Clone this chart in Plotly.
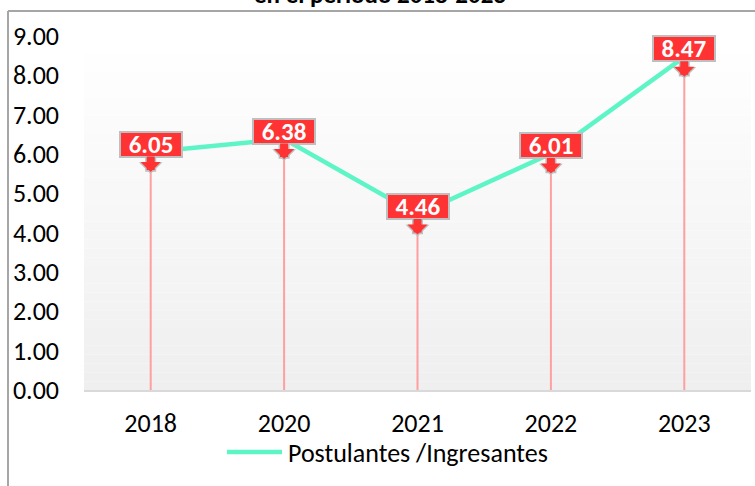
import plotly.graph_objects as go

categories = ["2018", "2020", "2021", "2022", "2023"]
values = [6.05, 6.38, 4.46, 6.01, 8.47]
y_ticks = [0, 1, 2, 3, 4, 5, 6, 7, 8, 9]
series_name = "Postulantes /Ingresantes"
title_text = "en el periodo 2018-2023"

W, H = 755, 486
L, R, T, B = 84, 4, 36, 96
pw, ph = W - L - R, H - T - B

def px(x):
    return (x - L) / pw

def py(y):
    return (H - B - y) / ph

LINE_COLOR = "#5ef5c6"
FONT = "Carlito, Calibri, Open Sans, sans-serif"
FS = 26

fig = go.Figure()

fig.add_trace(go.Scatter(
    x=categories, y=values, mode="lines",
    line=dict(color=LINE_COLOR, width=4.5),
    error_y=dict(type="data", symmetric=False, array=[0] * len(values),
                 arrayminus=values, color="#ff9f9f", thickness=2, width=0),
    showlegend=False, hoverinfo="skip",
))

shapes = []
n = 40
for i in range(n):
    t = i / (n - 1)
    c = int(round(255 - (255 - 239) * (1 - t)))
    shapes.append(dict(type="rect", xref="paper", yref="paper",
                       x0=0, x1=1, y0=i / n, y1=(i + 1) / n,
                       fillcolor=f"rgb({c},{c},{c})", line=dict(width=0),
                       layer="below"))
shapes.append(dict(type="line", xref="paper", yref="paper",
                   x0=px(8), x1=px(756), y0=py(11), y1=py(11),
                   line=dict(color="#a6a6a6", width=2)))
shapes.append(dict(type="line", xref="paper", yref="paper",
                   x0=px(8), x1=px(8), y0=py(11), y1=py(490),
                   line=dict(color="#a6a6a6", width=2)))
shapes.append(dict(type="line", xref="paper", yref="paper",
                   x0=px(227), x1=px(282), y0=py(452), y1=py(452),
                   line=dict(color=LINE_COLOR, width=4.5)))

annotations = []
for i, v in enumerate(values):
    lbl = f"{v:.2f}"
    common = dict(x=i, y=v, xref="x", yref="y", text=lbl,
                  font=dict(family=FONT, size=25, color="white", weight="bold"),
                  bgcolor="#ff3333", bordercolor="#bfbfbf", borderwidth=2,
                  borderpad=0, width=60, height=23, showarrow=True,
                  ax=0, axref="pixel", ayref="pixel", arrowhead=1, standoff=0)
    annotations.append(dict(common, yshift=-22, ay=-30, arrowcolor="#bfbfbf",
                            arrowwidth=11, arrowsize=0.36))
    annotations.append(dict(common, yshift=-20, ay=-28, arrowcolor="#ff3333",
                            arrowwidth=8, arrowsize=0.42))

annotations.append(dict(x=px(286), y=py(453), xref="paper", yref="paper",
                        text=series_name, showarrow=False, xanchor="left",
                        yanchor="middle",
                        font=dict(family=FONT, size=FS, color="black")))
annotations.append(dict(x=px(380), y=py(12), xref="paper", yref="paper",
                        text=title_text, showarrow=False, xanchor="center",
                        yanchor="bottom",
                        font=dict(family=FONT, size=25, color="black", weight="bold")))

fig.update_layout(
    width=W, height=H,
    margin=dict(l=L, r=R, t=T, b=B),
    paper_bgcolor="white", plot_bgcolor="rgba(0,0,0,0)",
    showlegend=False,
    shapes=shapes, annotations=annotations,
    font=dict(family=FONT, size=FS, color="black"),
)
fig.update_xaxes(type="category", range=[-0.5, 4.5], showgrid=False,
                 showline=True, linecolor="#d9d9d9", linewidth=2,
                 ticks="", ticklabelstandoff=9, zeroline=False,
                 tickfont=dict(family=FONT, size=FS, color="black"))
fig.update_yaxes(range=[0, 9], tickvals=y_ticks,
                 ticktext=[f"{t:.2f}" for t in y_ticks], showgrid=False,
                 showline=False, zeroline=False, ticks="",
                 ticklabelstandoff=24,
                 tickfont=dict(family=FONT, size=FS, color="black"))

fig.write_html("out.html", config={"displayModeBar": False},
               post_script="document.body.style.margin='0';")
